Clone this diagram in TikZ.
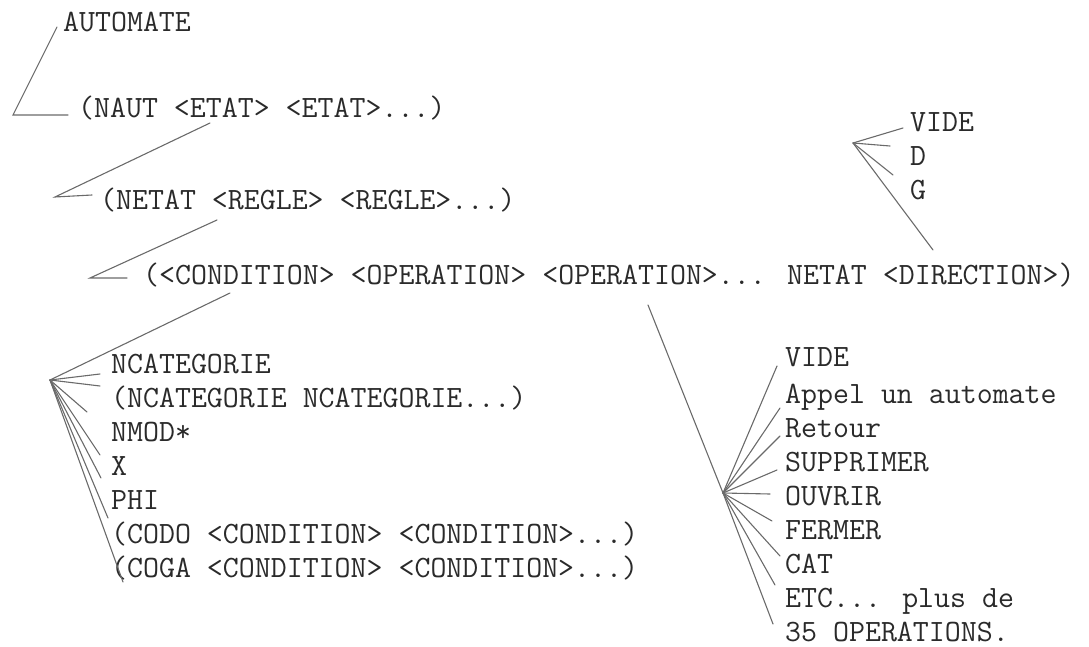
\documentclass[tikz,border=0pt]{standalone}
\definecolor{ink}{HTML}{2A2A2A}
\definecolor{pencil}{HTML}{6A6A6A}
\tikzset{
  txt/.style={anchor=base west, inner sep=0pt, text=ink, font=\ttfamily\fontsize{31}{34}\selectfont},
  lnk/.style={draw=pencil, line width=1.1pt, line cap=round}
}
\begin{document}
\begin{tikzpicture}[x=1pt,y=-1pt]
\useasboundingbox (0,0) rectangle (1089,647);
% main texts
\node[txt] (auto) at (63,32) {AUTOMATE};
\node[txt] (naut) at (78,118) {(NAUT <ETAT> <ETAT>...)};
\node[txt] (netat) at (100,209) {(NETAT <REGLE> <REGLE>...)};
\node[txt] (cond) at (143,284) {(<CONDITION> <OPERATION> <OPERATION>... NETAT <DIRECTION>)};
% direction list
\node[txt] (dvide) at (910,132) {VIDE};
\node[txt] (dd) at (910,166) {D};
\node[txt] (dg) at (910,200) {G};
% condition list
\node[txt] (c1) at (111,373) {NCATEGORIE};
\node[txt] (c2) at (111,407) {(NCATEGORIE NCATEGORIE...)};
\node[txt] (c3) at (111,441) {NMOD*};
\node[txt] (c4) at (111,475) {X};
\node[txt] (c5) at (111,509) {PHI};
\node[txt] (c6) at (111,543) {(CODO <CONDITION> <CONDITION>...)};
\node[txt] (c7) at (111,577) {(COGA <CONDITION> <CONDITION>...)};
% operation list
\node[txt] (o1) at (785,366) {VIDE};
\node[txt] (o2) at (785,403) {Appel un automate};
\node[txt] (o3) at (785,437) {Retour};
\node[txt] (o4) at (785,471) {SUPPRIMER};
\node[txt] (o5) at (785,505) {OUVRIR};
\node[txt] (o6) at (785,539) {FERMER};
\node[txt] (o7) at (785,573) {CAT};
\node[txt] (o8) at (785,607) {ETC... plus de};
\node[txt] (o9) at (785,641) {35 OPERATIONS.};
% connector points
\coordinate (a1) at (57,27);
\coordinate (a2) at (13,115);
\coordinate (a3) at (68,115);
\coordinate (n1) at (210,123);
\coordinate (n2) at (55,197);
\coordinate (n3) at (92,195);
\coordinate (e1) at (217,220);
\coordinate (e2) at (90,278);
\coordinate (e3) at (127,278);
\coordinate (k1) at (230,293);
\coordinate (lroot) at (50,380);
\coordinate (l1) at (100,374);
\coordinate (l2) at (100,386);
\coordinate (l3) at (87,412);
\coordinate (l4) at (100,455);
\coordinate (l5) at (101,478);
\coordinate (l6) at (108,518);
\coordinate (l7) at (123,582);
\coordinate (p1) at (648,305);
\coordinate (oroot) at (723,493);
\coordinate (q1) at (777,366);
\coordinate (q2) at (780,408);
\coordinate (q3) at (780,436);
\coordinate (q4) at (777,470);
\coordinate (q5) at (770,494);
\coordinate (q6) at (772,521);
\coordinate (q7) at (780,556);
\coordinate (q8) at (775,585);
\coordinate (q9) at (773,624);
\coordinate (r1) at (933,250);
\coordinate (droot) at (853,143);
\coordinate (s1) at (903,128);
\coordinate (s2) at (890,146);
\coordinate (s3) at (893,175);
% connectors
\draw[lnk] (a1) -- (a2) -- (a3);
\draw[lnk] (n1) -- (n2) -- (n3);
\draw[lnk] (e1) -- (e2) -- (e3);
\draw[lnk] (k1) -- (lroot);
\foreach \i in {1,...,7} \draw[lnk] (lroot) -- (l\i);
\draw[lnk] (p1) -- (oroot);
\foreach \i in {1,...,9} \draw[lnk] (oroot) -- (q\i);
\draw[lnk] (r1) -- (droot);
\foreach \i in {1,2,3} \draw[lnk] (droot) -- (s\i);
\end{tikzpicture}
\end{document}
